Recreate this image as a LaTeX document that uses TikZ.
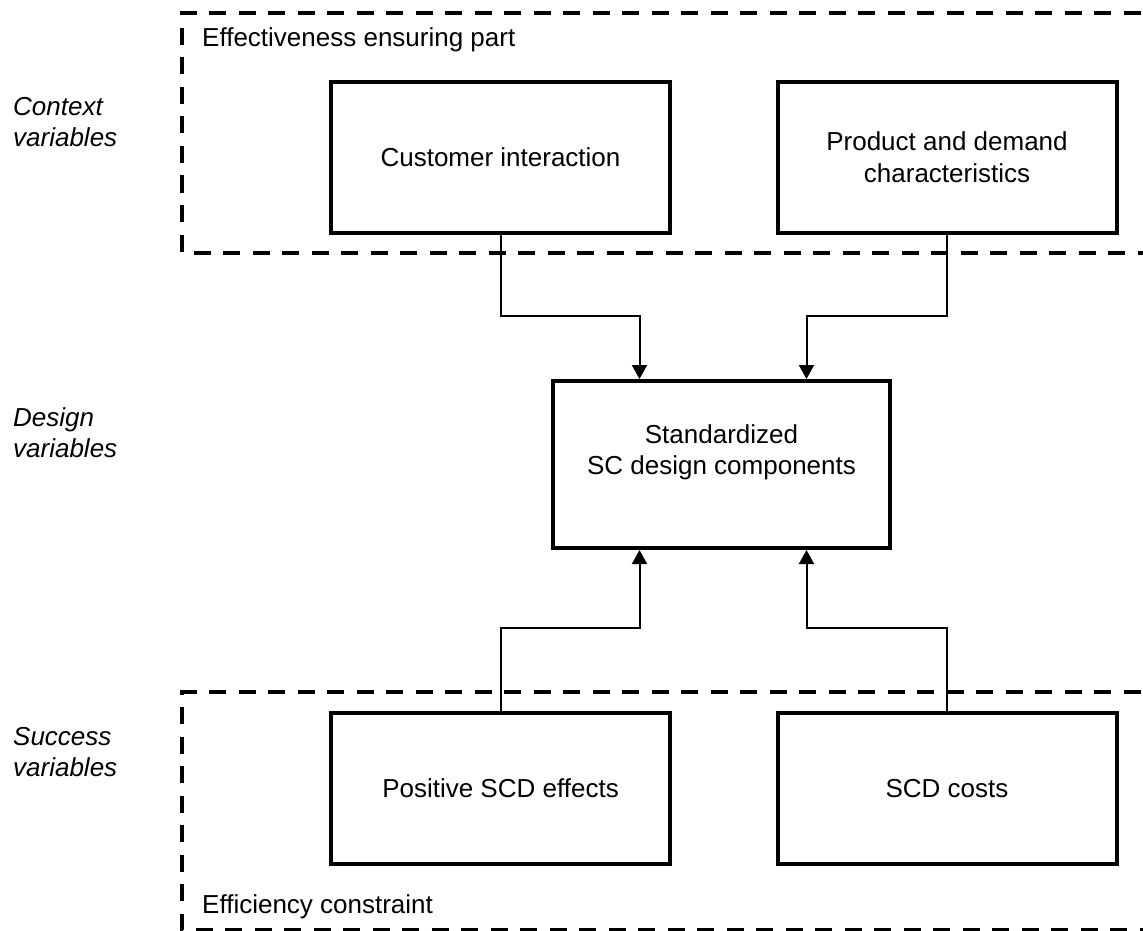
\documentclass[tikz,border=0pt]{standalone}
\usepackage{fontspec}
\setmainfont{Liberation Sans}
\usetikzlibrary{arrows.meta}
\begin{document}
\begin{tikzpicture}[x=1pt,y=-1pt,
  every node/.style={font=\fontsize{26}{31}\selectfont},
  boxn/.style={draw,line width=4pt,minimum width=339pt,minimum height=151pt,inner sep=0pt,align=center},
  region/.style={line width=4pt,dash pattern=on 17pt off 12.5pt},
  conn/.style={line width=2pt,-{Triangle[width=15pt,length=14pt]}},
  side/.style={anchor=north west,inner sep=0pt,align=left,font=\fontsize{26}{31}\selectfont\itshape},
  tag/.style={anchor=base west,inner sep=0pt}]
\useasboundingbox (0,0) rectangle (1143,931);
\clip (0,0) rectangle (1143,931);
% dashed regions
\draw[region] (1170,13) -- (182,13) -- (182,252.5) -- (1170,252.5);
\draw[region] (1170,692) -- (182,692) -- (182,929.5) -- (1170,929.5);
\node[tag] (lt) at (202,47) {Effectiveness ensuring part};
\node[tag] (lb) at (202,913) {Efficiency constraint};
% side labels
\node[side] (c1) at (13,97) {Context\\variables};
\node[side] (c2) at (13,407) {Design\\variables};
\node[side] (c3) at (13,727) {Success\\variables};
% boxes
\node[boxn] (ci) at (500.5,157.5) {Customer interaction};
\node[boxn,font=\fontsize{26}{32}\selectfont] (pd) at (947,157.5) {Product and demand\\characteristics};
\node[boxn,minimum width=337pt,minimum height=167pt,text depth=30pt] (sc) at (721.5,464.5) {Standardized\\SC design components};
\node[boxn] (pe) at (500.5,788.5) {Positive SCD effects};
\node[boxn] (co) at (947,788.5) {SCD costs};
% connectors
\draw[conn] (ci.south) -- ++(0,81) -| ([xshift=-82pt]sc.north);
\draw[conn] (pd.south) -- ++(0,81) -| ([xshift=85pt]sc.north);
\draw[conn] (pe.north) -- ++(0,-83) -| ([xshift=-82pt]sc.south);
\draw[conn] (co.north) -- ++(0,-83) -| ([xshift=85pt]sc.south);
\end{tikzpicture}
\end{document}
